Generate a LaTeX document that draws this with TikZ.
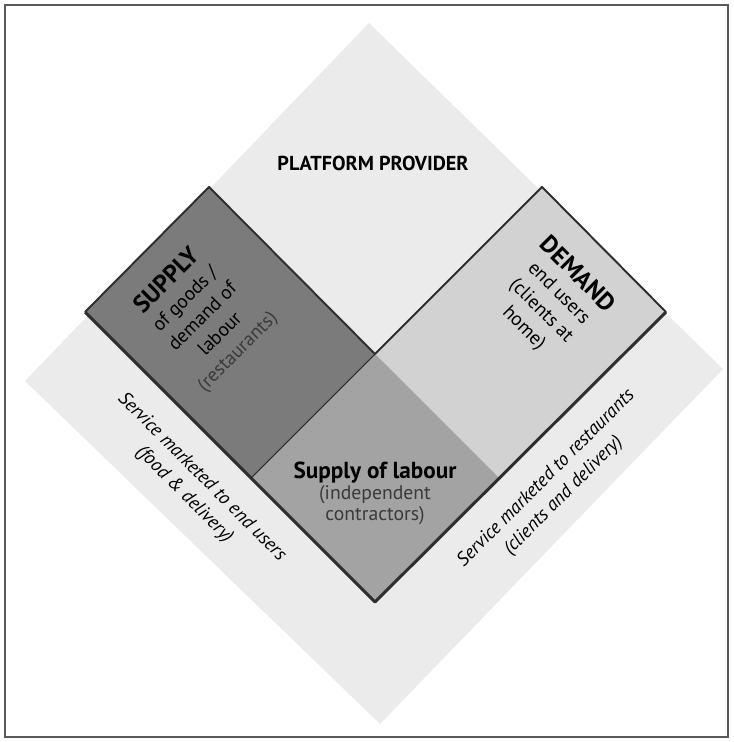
\documentclass[tikz,border=0pt]{standalone}
\usepackage{fontspec}
\setmainfont{PT Sans}
\definecolor{platform}{HTML}{EBEBEB}
\definecolor{supplycol}{HTML}{7B7B7B}
\definecolor{demandcol}{HTML}{D2D2D2}
\definecolor{labourcol}{HTML}{A3A3A3}
\definecolor{edge}{HTML}{2E2E2E}
\definecolor{subtext}{HTML}{3A3A3A}

\begin{document}
\begin{tikzpicture}[x=0.02cm, y=-0.02cm,
  body/.style={align=center, inner sep=0, font=\fontsize{11}{14}\selectfont},
  side/.style={align=center, inner sep=0, font=\fontsize{10.8}{14}\selectfont\itshape}]
  \useasboundingbox (0,0) rectangle (733,742);
  \draw[gray!70!black, line width=0.9pt] (5,5) rectangle (728,737);
  % platform diamond behind everything
  \fill[platform] (369,23) -- (723,369) -- (380,724) -- (25,381) -- cycle;
  % corners of the three squares
  \coordinate (c) at (375,354);
  \coordinate (st) at (209,187);
  \coordinate (sl) at (85,312);
  \coordinate (ml) at (251,478);
  \coordinate (mb) at (375,602);
  \coordinate (mr) at (499,478);
  \coordinate (dt) at (542,187);
  \coordinate (dr) at (666,312);
  \fill[supplycol] (sl) -- (st) -- (c) -- (ml) -- cycle;
  \fill[demandcol] (c) -- (dt) -- (dr) -- (mr) -- cycle;
  \fill[labourcol] (c) -- (mr) -- (mb) -- (ml) -- cycle;
  \draw[edge, line width=0.6pt] (c) -- (ml);
  \draw[edge, line width=1.1pt, line join=round] (sl) -- (st) -- (c) -- (dt) -- (dr);
  \draw[edge, line width=1.7pt, line join=round] (sl) -- (mb) -- (dr);
  % labels
  \node[font=\fontsize{11.5}{13}\selectfont\bfseries] (provider) at (373,163) {PLATFORM PROVIDER};
  \node[body, rotate=45] (supply) at (202,316)
    {{\fontsize{14}{16}\selectfont\bfseries SUPPLY}\\of goods /\\demand of\\labour\\{\color{subtext}(restaurants)}};
  \node[body, rotate=-45] (demand) at (551,301)
    {{\fontsize{14}{16}\selectfont\bfseries DEMAND}\\end users\\(clients at\\home)};
  \node[body, font=\fontsize{11.2}{12}\selectfont] (labour) at (375,493)
    {{\fontsize{13.2}{15}\selectfont\bfseries Supply of labour}\\{\color{subtext}(independent}\\{\color{subtext}contractors)}};
  \node[side, rotate=-45] (endusers) at (193,486)
    {Service marketed to end users\\(food \& delivery)};
  \node[side, rotate=45] (restaurants) at (555,487)
    {Service marketed to restaurants\\(clients and delivery)};
\end{tikzpicture}
\end{document}
